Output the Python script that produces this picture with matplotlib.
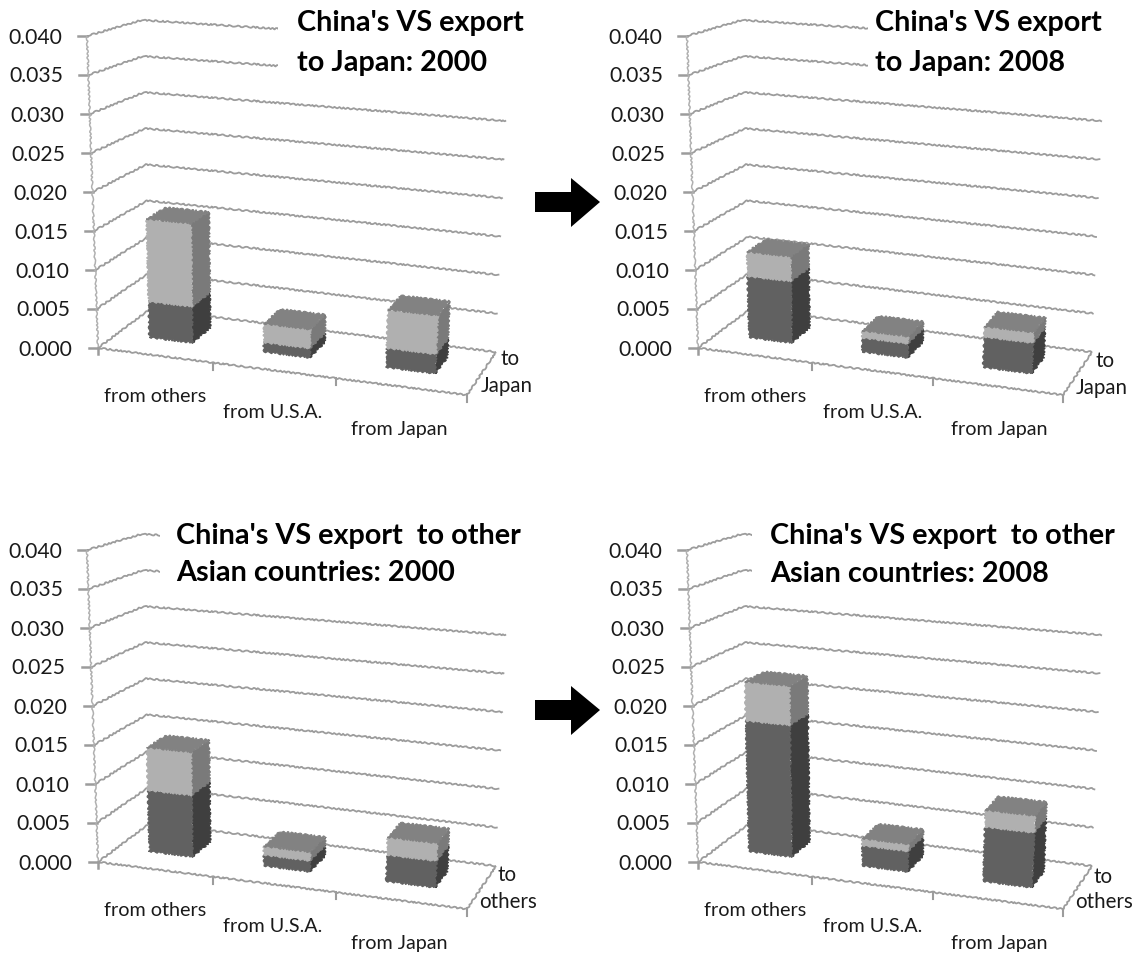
import numpy as np
import matplotlib
matplotlib.use('Agg')
from matplotlib import pyplot as plt
from matplotlib.patches import Polygon, Rectangle

plt.rcParams['font.family'] = ['Lato', 'DejaVu Sans']

categories = ['from others', 'from U.S.A.', 'from Japan']
levels = [0.0, 0.005, 0.01, 0.015, 0.02, 0.025, 0.03, 0.035, 0.04]
level_labels = ['0.000', '0.005', '0.010', '0.015', '0.020', '0.025', '0.030', '0.035', '0.040']

# dark part of each stack and the stack total
japan_2000_dark = [0.0047, 0.0012, 0.0024]
japan_2000_total = [0.0155, 0.0036, 0.0072]
japan_2008_dark = [0.0080, 0.0018, 0.0038]
japan_2008_total = [0.0112, 0.0027, 0.0051]
asia_2000_dark = [0.0080, 0.0014, 0.0033]
asia_2000_total = [0.0136, 0.0025, 0.0055]
asia_2008_dark = [0.0171, 0.0026, 0.0068]
asia_2008_total = [0.0222, 0.0035, 0.0089]

LIGHT = ('#b0b0b0', '#7a7a7a', '#828282')
DARK = ('#616161', '#3f3f3f', '#555555')
GRID = '#9c9c9c'
WOBBLE = (0.7, 7, 3)

# chart box in pixels: floor corners and the rise of each corner at the top level
FL, FR, BR, BL = [(98, 348), (467, 395), (496, 352), (150, 309)]
UP_FL, UP_FR, UP_BR, UP_BL = [(-11, -312), (20, -335), (13.3, -308), (-8, -289)]


def floor_matrix(squeeze):
    src = [(0, 0), (1, 0), (1, 1), (0, 1)]
    dst = [FL, (FR[0] - squeeze, FR[1]), (BR[0] - squeeze, BR[1]), BL]
    a, b = [], []
    for (s, d), (x, y) in zip(src, dst):
        a.append([s, d, 1, 0, 0, 0, -s * x, -d * x])
        a.append([0, 0, 0, s, d, 1, -s * y, -d * y])
        b += [x, y]
    h = np.linalg.solve(np.array(a, float), np.array(b, float))
    return np.append(h, 1).reshape(3, 3)


def make_proj(off, squeeze):
    H = floor_matrix(squeeze)

    def q(u, d, v):
        # category slots get wider towards the viewer
        s = np.interp(u, [0, 1, 2, 3], [0, 0.95, 1.95, 3]) / 3.0
        p = H @ np.array([s, d, 1.0])
        px, py = p[0] / p[2], p[1] / p[2]
        up = [(1 - s) * (1 - d) * UP_FL[i] + s * (1 - d) * UP_FR[i] + s * d * UP_BR[i] + (1 - s) * d * UP_BL[i]
              for i in range(2)]
        k = v / levels[-1]
        return px + up[0] * k + off[0], py + up[1] * k + off[1]
    return q


def wline(ax, pts, color=GRID, lw=1.3, z=1):
    xs, ys = zip(*pts)
    ln, = ax.plot(xs, ys, color=color, lw=lw, zorder=z, solid_capstyle='butt')
    ln.set_sketch_params(*WOBBLE)


def face(ax, pts, color, z):
    p = Polygon(pts, closed=True, facecolor=color, edgecolor=color, lw=0.8, zorder=z)
    p.set_sketch_params(0.9, 5, 3)
    ax.add_patch(p)


def block(ax, q, u0, u1, d0, d1, v0, v1, cols, z):
    face(ax, [q(u1, d0, v0), q(u1, d1, v0), q(u1, d1, v1), q(u1, d0, v1)], cols[1], z)
    face(ax, [q(u0, d0, v0), q(u1, d0, v0), q(u1, d0, v1), q(u0, d0, v1)], cols[0], z + 0.1)


def panel(ax, off, squeeze, dark, total, title, title_xy, gap_x, depth_lines, depth_xy):
    q = make_proj(off, squeeze)

    # walls and floor
    for v, lab in zip(levels, level_labels):
        wline(ax, [q(0, 0, v), q(0, 1, v), q(3, 1, v)])
        x0, y0 = q(0, 0, v)
        ax.plot([x0 - 9, x0], [y0, y0], color=GRID, lw=1.8, zorder=1)
        ax.text(x0 - 26 + 1 * v / levels[-1], y0 + 1.5, lab, ha='right', va='center',
                fontsize=15.2, color='#1a1a1a')
    wline(ax, [q(0, 0, 0), q(0, 0, levels[-1])], color='#b0b0b0', lw=1.1)
    wline(ax, [q(0, 0, 0), q(3, 0, 0), q(3, 1, 0)])
    ax.plot(*zip(q(0, 0, 0), (q(0, 0, 0)[0], q(0, 0, 0)[1] + 6)), color=GRID, lw=1.8, zorder=1)
    for u in (1, 2, 3):
        x, y = q(u, 0, 0)
        ax.plot([x, x], [y, y + 7], color=GRID, lw=1.5, zorder=1)

    # stacked columns, each with a top face on the light part
    for i, name in enumerate(categories):
        u0, u1 = i + 0.285, i + 0.67
        d0, d1 = 0.36, 0.74
        block(ax, q, u0, u1, d0, d1, 0, dark[i], DARK, 3 + i)
        block(ax, q, u0, u1, d0, d1, dark[i], total[i], LIGHT, 3 + i)
        t = total[i]
        face(ax, [q(u0, d0, t), q(u1, d0, t), q(u1, d1, t), q(u0, d1, t)], LIGHT[2], 3.2 + i)
        lx, ly = [(155, 397), (273, 413), (399, 430)][i]
        ax.text(lx + off[0], ly + off[1], name, ha='center', va='center', fontsize=14.2, color='#1a1a1a')

    # title sits on a white box that hides the top of the walls
    tx, ty, line_gap = title_xy
    ax.add_patch(Rectangle((gap_x + off[0], off[1] + 4), 515 - gap_x, 84, fc='white', ec='none', zorder=5))
    for line, yy in zip(title, (ty, ty + line_gap)):
        ax.text(tx + off[0], yy + off[1], line, ha='left', va='center', fontsize=20.7,
                fontweight='bold', color='black', zorder=6)
    for line, (dx, dy) in zip(depth_lines, depth_xy):
        ax.text(dx + off[0], dy + off[1], line, ha='center', va='center', fontsize=14.8, color='#1a1a1a')


def arrow(ax, x, y):
    ax.add_patch(Polygon([(x, y - 10), (x + 36, y - 10), (x + 36, y - 24), (x + 65, y),
                          (x + 36, y + 25), (x + 36, y + 10), (x, y + 10)],
                         closed=True, fc='black', ec='none', zorder=7))


fig = plt.figure(figsize=(11.41, 9.56), dpi=100)
ax = fig.add_axes([0, 0, 1, 1])
ax.set_xlim(0, 1141)
ax.set_ylim(956, 0)
ax.axis('off')

panel(ax, (0, 0), 0, japan_2000_dark, japan_2000_total,
      ["China's VS export", 'to Japan: 2000'], (297, 23, 40), 278,
      ['to', 'Japan'], [(510, 359), (507, 386)])
panel(ax, (600, 0), 4, japan_2008_dark, japan_2008_total,
      ["China's VS export", 'to Japan: 2008'], (275, 23, 40), 268,
      ['to', 'Japan'], [(505, 361), (502, 388)])
panel(ax, (0, 514), 0, asia_2000_dark, asia_2000_total,
      ["China's VS export  to other", 'Asian countries: 2000'], (176, 22, 37), 160,
      ['to', 'others'], [(507, 361), (508, 388)])
panel(ax, (600, 514), 4, asia_2008_dark, asia_2008_total,
      ["China's VS export  to other", 'Asian countries: 2008'], (170, 22, 38), 152,
      ['to', 'others'], [(503, 363), (504, 388)])

arrow(ax, 535, 202)
arrow(ax, 535, 710)

fig.savefig('out.png', dpi=100)
